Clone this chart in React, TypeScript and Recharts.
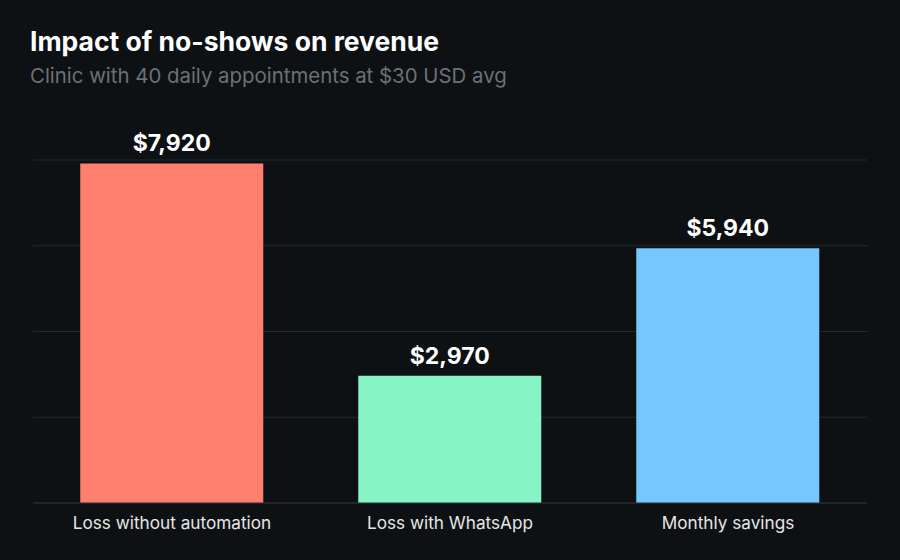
import React from "react";
import { BarChart, Bar, XAxis, YAxis, CartesianGrid, LabelList, Cell } from "recharts";

const categories = ["Loss without automation", "Loss with WhatsApp", "Monthly savings"];
const values = [7920, 2970, 5940];
const colors = ["#FF7F6E", "#86F4C4", "#74C7FF"];
const yTicks = [0, 2000, 4000, 6000, 8000];

const data = categories.map((name, i) => ({ name, value: values[i] }));

const FONT = "Inter, 'Noto Sans', sans-serif";

export default function App() {
  return (
    <div
      style={{
        position: "absolute",
        left: 0,
        top: 0,
        width: 900,
        height: 560,
        background: "#0E1113",
        fontFamily: FONT,
        overflow: "hidden",
      }}
    >
      <svg width={900} height={110} style={{ position: "absolute", left: 0, top: 0 }}>
        <text x={30} y={51} fill="#FFFFFF" fontSize={26.5} fontWeight={700} fontFamily={FONT}>
          Impact of no-shows on revenue
        </text>
        <text x={30} y={83} fill="#6B7075" fontSize={20.4} fontWeight={400} fontFamily={FONT}>
          Clinic with 40 daily appointments at $30 USD avg
        </text>
      </svg>
      <div style={{ position: "absolute", left: 0, top: 0 }}>
        <BarChart
          width={900}
          height={560}
          data={data}
          margin={{ top: 160, right: 33, left: 33, bottom: 27 }}
          barCategoryGap="17%"
        >
          <CartesianGrid vertical={false} stroke="#24282C" strokeWidth={1} />
          <YAxis hide domain={[0, 8000]} ticks={yTicks} />
          <XAxis
            dataKey="name"
            height={30}
            axisLine={{ stroke: "#2A2E32" }}
            tickLine={false}
            tickMargin={8}
            tick={{ fill: "#E6E6E6", fontSize: 17.2, fontFamily: FONT }}
          />
          <Bar dataKey="value" isAnimationActive={false}>
            {data.map((d, i) => (
              <Cell key={d.name} fill={colors[i]} />
            ))}
            <LabelList
              dataKey="value"
              position="top"
              offset={12}
              fill="#FFFFFF"
              fontSize={23}
              fontWeight={700}
              fontFamily={FONT}
              formatter={(v: number) => `$${Number(v).toLocaleString("en-US")}`}
            />
          </Bar>
        </BarChart>
      </div>
    </div>
  );
}
